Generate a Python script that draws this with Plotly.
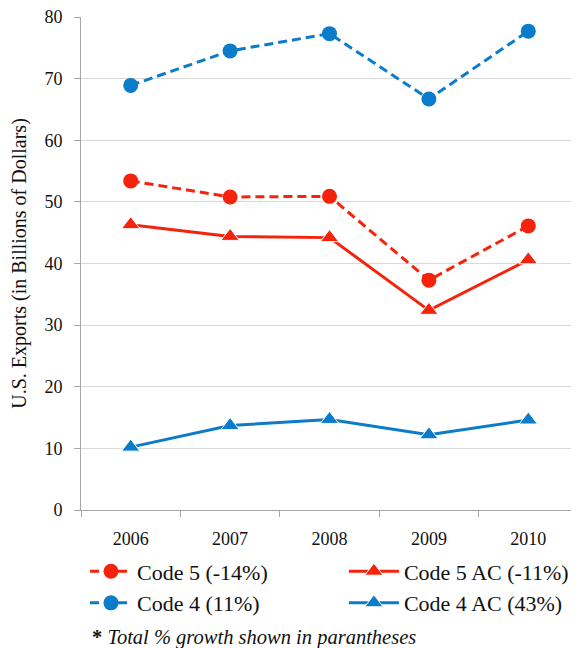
import plotly.graph_objects as go

years = ["2006", "2007", "2008", "2009", "2010"]
code5 = [53.4, 50.8, 50.9, 37.3, 46.1]
code5_ac = [46.3, 44.4, 44.2, 32.4, 40.6]
code4 = [68.9, 74.5, 77.3, 66.7, 77.7]
code4_ac = [10.2, 13.7, 14.7, 12.2, 14.6]
y_ticks = [0, 10, 20, 30, 40, 50, 60, 70, 80]

RED = "#F5230C"
BLUE = "#0B7CC9"
FONT = "Liberation Serif, Times New Roman, serif"
LEG_FONT = dict(size=22, family=FONT, color="#111111")

fig = go.Figure()
fig.add_trace(go.Scatter(x=years, y=code5, name="Code 5 (-14%)", mode="lines+markers",
                         legend="legend",
                         line=dict(color=RED, width=3, dash="9px,5px"),
                         marker=dict(symbol="circle", size=15, color=RED)))
fig.add_trace(go.Scatter(x=years, y=code5_ac, name="Code 5 AC (-11%)", mode="lines+markers",
                         legend="legend2",
                         line=dict(color=RED, width=3),
                         marker=dict(symbol="triangle-up", size=16, color=RED,
                                     line=dict(color="white", width=1))))
fig.add_trace(go.Scatter(x=years, y=code4, name="Code 4 (11%)", mode="lines+markers",
                         legend="legend",
                         line=dict(color=BLUE, width=3, dash="9px,5px"),
                         marker=dict(symbol="circle", size=15, color=BLUE)))
fig.add_trace(go.Scatter(x=years, y=code4_ac, name="Code 4 AC (43%)", mode="lines+markers",
                         legend="legend2",
                         line=dict(color=BLUE, width=3),
                         marker=dict(symbol="triangle-up", size=16, color=BLUE,
                                     line=dict(color="white", width=1))))

fig.update_layout(
    width=571, height=640,
    margin=dict(l=73, r=1, t=9, b=138, autoexpand=False),
    paper_bgcolor="white", plot_bgcolor="white",
    font=dict(family=FONT, color="#111111", size=18),
    showlegend=True,
    legend=dict(orientation="v", x=0.008, xanchor="left", y=-0.082, yanchor="top",
                font=LEG_FONT, itemwidth=42, traceorder="normal",
                bgcolor="rgba(0,0,0,0)"),
    legend2=dict(orientation="v", x=0.529, xanchor="left", y=-0.082, yanchor="top",
                 font=LEG_FONT, itemwidth=50, traceorder="normal",
                 bgcolor="rgba(0,0,0,0)"),
    xaxis=dict(type="category", range=[-0.5, 4.5], showgrid=False,
               showline=True, linecolor="#A6A6A6", linewidth=1,
               ticks="outside", tickson="boundaries", ticklen=6, tickcolor="#A6A6A6",
               ticklabelstandoff=12, tickfont=dict(size=18, family=FONT)),
    yaxis=dict(range=[0, 80], tickvals=y_ticks, showgrid=True, gridcolor="#D9D9D9",
               gridwidth=1, zeroline=False, showline=True, linecolor="#A6A6A6", linewidth=1,
               ticks="outside", ticklen=6, tickcolor="#A6A6A6", ticklabelstandoff=8,
               ticklabeloverflow="allow",
               tickfont=dict(size=18, family=FONT),
               title=dict(text="U.S. Exports (in Billions of Dollars)",
                          font=dict(size=20, family=FONT), standoff=14)),
)

fig.add_annotation(x=0.018, y=-0.258, xref="paper", yref="paper", xanchor="left",
                   yanchor="middle", showarrow=False,
                   text="<b>*</b> <i>Total % growth shown in parantheses</i>",
                   font=dict(size=20.5, family=FONT, color="#111111"))

fig.write_html("out.html")
